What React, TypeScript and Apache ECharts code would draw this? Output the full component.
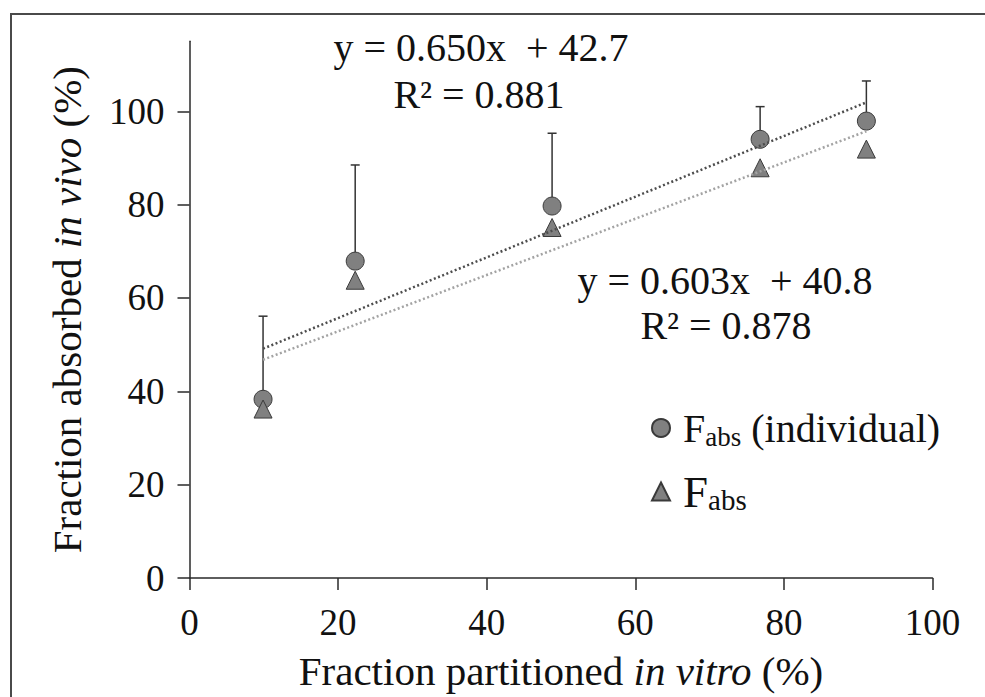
import React, { useEffect, useRef } from "react";
import * as echarts from "echarts";

// Fraction partitioned in vitro (%) for each formulation
const partitionedInVitro = [9.9, 22.3, 48.8, 76.8, 91.1];
// Fraction absorbed in vivo (%), individual-subject estimate, with its upper SD
const fabsIndividual = [38.3, 67.9, 79.7, 94.0, 97.9];
const fabsIndividualSd = [17.8, 20.6, 15.6, 7.0, 8.6];
// Fraction absorbed in vivo (%), pooled estimate
const fabsPooled = [36.2, 63.8, 75.1, 87.9, 91.9];

// Linear fits shown on the chart
const fitIndividual = { slope: 0.65, intercept: 42.7, r2: 0.881 };
const fitPooled = { slope: 0.603, intercept: 40.8, r2: 0.878 };

const xTickValues = [0, 20, 40, 60, 80, 100];
const yTickValues = [0, 20, 40, 60, 80, 100];

const SERIF = '"Liberation Serif", "Times New Roman", Times, serif';
const INK = "#111111";
const AXIS = "#2a2a2a";

type Fit = { slope: number; intercept: number; r2: number };

const fitLine = (fit: Fit): number[][] => {
  const lo = Math.min(...partitionedInVitro);
  const hi = Math.max(...partitionedInVitro);
  return [
    [lo, fit.slope * lo + fit.intercept],
    [hi, fit.slope * hi + fit.intercept],
  ];
};

const equationText = (fit: Fit) =>
  `y = ${fit.slope.toFixed(3)}x  + ${fit.intercept.toFixed(1)}`;
const r2Text = (fit: Fit) => `R² = ${fit.r2.toFixed(3)}`;

const axisLineStyle = { color: AXIS, width: 1.5 };

const option: echarts.EChartsCoreOption = {
  animation: false,
  backgroundColor: "#ffffff",
  grid: { left: 189.5, right: 52.5, top: 41.3, bottom: 111.7 },
  xAxis: {
    type: "value",
    min: 0,
    max: 100,
    interval: 20,
    axisLine: { show: true, onZero: false, lineStyle: axisLineStyle },
    axisTick: { show: true, inside: false, length: 12, lineStyle: axisLineStyle, customValues: xTickValues },
    splitLine: { show: false },
    axisLabel: {
      margin: 26,
      fontSize: 37,
      fontFamily: SERIF,
      color: INK,
      customValues: xTickValues,
    },
    name: "Fraction partitioned {i|in vitro} (%)",
    nameLocation: "middle",
    nameGap: 72,
    nameTextStyle: {
      fontSize: 41,
      fontFamily: SERIF,
      color: INK,
      lineHeight: 42,
      rich: { i: { fontStyle: "italic", fontSize: 41, fontFamily: SERIF, color: INK, lineHeight: 42 } },
    },
  },
  yAxis: {
    type: "value",
    min: 0,
    max: 115,
    interval: 20,
    axisLine: { show: true, onZero: false, lineStyle: axisLineStyle },
    axisTick: { show: true, inside: false, length: 12, lineStyle: axisLineStyle, customValues: yTickValues },
    splitLine: { show: false },
    axisLabel: {
      margin: 25,
      fontSize: 37,
      fontFamily: SERIF,
      color: INK,
      customValues: yTickValues,
    },
    name: "Fraction absorbed {i|in vivo} (%)",
    nameLocation: "middle",
    nameGap: 102,
    nameTextStyle: {
      fontSize: 41,
      fontFamily: SERIF,
      color: INK,
      lineHeight: 42,
      rich: { i: { fontStyle: "italic", fontSize: 41, fontFamily: SERIF, color: INK, lineHeight: 42 } },
    },
  },
  legend: {
    orient: "vertical",
    left: 646,
    top: 403,
    itemWidth: 18,
    itemHeight: 18,
    itemGap: 19,
    selectedMode: false,
    data: [
      { name: "Fabs (individual)", icon: "circle" },
      { name: "Fabs", icon: "triangle" },
    ],
    formatter: (name: string) =>
      name === "Fabs" ? "{F|F}{S|abs}" : "{f|F}{s|abs}{t| (individual)}",
    textStyle: {
      fontFamily: SERIF,
      color: INK,
      fontSize: 40,
      padding: [0, 0, 0, 8],
      rich: {
        f: { fontSize: 40, lineHeight: 44, fontFamily: SERIF, color: INK },
        t: { fontSize: 40, lineHeight: 44, fontFamily: SERIF, color: INK },
        s: { fontSize: 27, lineHeight: 22, verticalAlign: "bottom", fontFamily: SERIF, color: INK },
        F: { fontSize: 45, lineHeight: 46, fontFamily: SERIF, color: INK },
        S: { fontSize: 29, lineHeight: 22, verticalAlign: "bottom", fontFamily: SERIF, color: INK },
      },
    },
  },
  graphic: [
    {
      type: "rect",
      silent: true,
      shape: { x: 11, y: 14, width: 1000, height: 720 },
      style: { fill: "none", stroke: "#4a4a4a", lineWidth: 2 },
    },
    {
      type: "text",
      x: 481,
      y: 47,
      style: { text: equationText(fitIndividual), fontSize: 40, fontFamily: SERIF, fill: INK, align: "center", verticalAlign: "middle" },
    },
    {
      type: "text",
      x: 479,
      y: 94,
      style: { text: r2Text(fitIndividual), fontSize: 40, fontFamily: SERIF, fill: INK, align: "center", verticalAlign: "middle" },
    },
    {
      type: "text",
      x: 725,
      y: 280,
      style: { text: equationText(fitPooled), fontSize: 40, fontFamily: SERIF, fill: INK, align: "center", verticalAlign: "middle" },
    },
    {
      type: "text",
      x: 726,
      y: 325,
      style: { text: r2Text(fitPooled), fontSize: 40, fontFamily: SERIF, fill: INK, align: "center", verticalAlign: "middle" },
    },
  ],
  series: [
    {
      type: "custom",
      name: "sd",
      silent: true,
      z: 1,
      encode: { x: 0, y: 1 },
      data: partitionedInVitro.map((x, i) => [x, fabsIndividual[i], fabsIndividualSd[i]]),
      renderItem: (_params: any, api: any) => {
        const x = api.value(0);
        const y = api.value(1);
        const sd = api.value(2);
        const base = api.coord([x, y]);
        const top = api.coord([x, y + sd]);
        const stroke = { stroke: "#333333", lineWidth: 1.5 };
        return {
          type: "group",
          children: [
            { type: "line", shape: { x1: base[0], y1: base[1], x2: top[0], y2: top[1] }, style: stroke },
            { type: "line", shape: { x1: top[0] - 4.5, y1: top[1], x2: top[0] + 4.5, y2: top[1] }, style: stroke },
          ],
        };
      },
    },
    {
      type: "scatter",
      name: "Fabs (individual)",
      z: 2,
      symbol: "circle",
      symbolSize: 18,
      itemStyle: { color: "#808080", borderColor: "#3a3a3a", borderWidth: 1, opacity: 1 },
      data: partitionedInVitro.map((x, i) => [x, fabsIndividual[i]]),
    },
    {
      type: "scatter",
      name: "Fabs",
      z: 2,
      symbol: "triangle",
      symbolSize: 18,
      itemStyle: { color: "#808080", borderColor: "#3a3a3a", borderWidth: 1, opacity: 1 },
      data: partitionedInVitro.map((x, i) => [x, fabsPooled[i]]),
    },
    {
      type: "line",
      name: "fit individual",
      z: 3,
      silent: true,
      symbol: "none",
      lineStyle: { color: "#4d4d4d", width: 2.5, type: [2, 2.5] },
      data: fitLine(fitIndividual),
    },
    {
      type: "line",
      name: "fit pooled",
      z: 3,
      silent: true,
      symbol: "none",
      lineStyle: { color: "#a3a3a3", width: 2.5, type: [2, 2.5] },
      data: fitLine(fitPooled),
    },
  ],
};

export default function App() {
  const ref = useRef<HTMLDivElement>(null);
  useEffect(() => {
    const chart = echarts.init(ref.current!, null, { renderer: "svg" });
    chart.setOption(option);
    return () => chart.dispose();
  }, []);
  return (
    <div
      ref={ref}
      style={{ position: "absolute", left: 0, top: 0, width: 985, height: 697, background: "#ffffff" }}
    />
  );
}
